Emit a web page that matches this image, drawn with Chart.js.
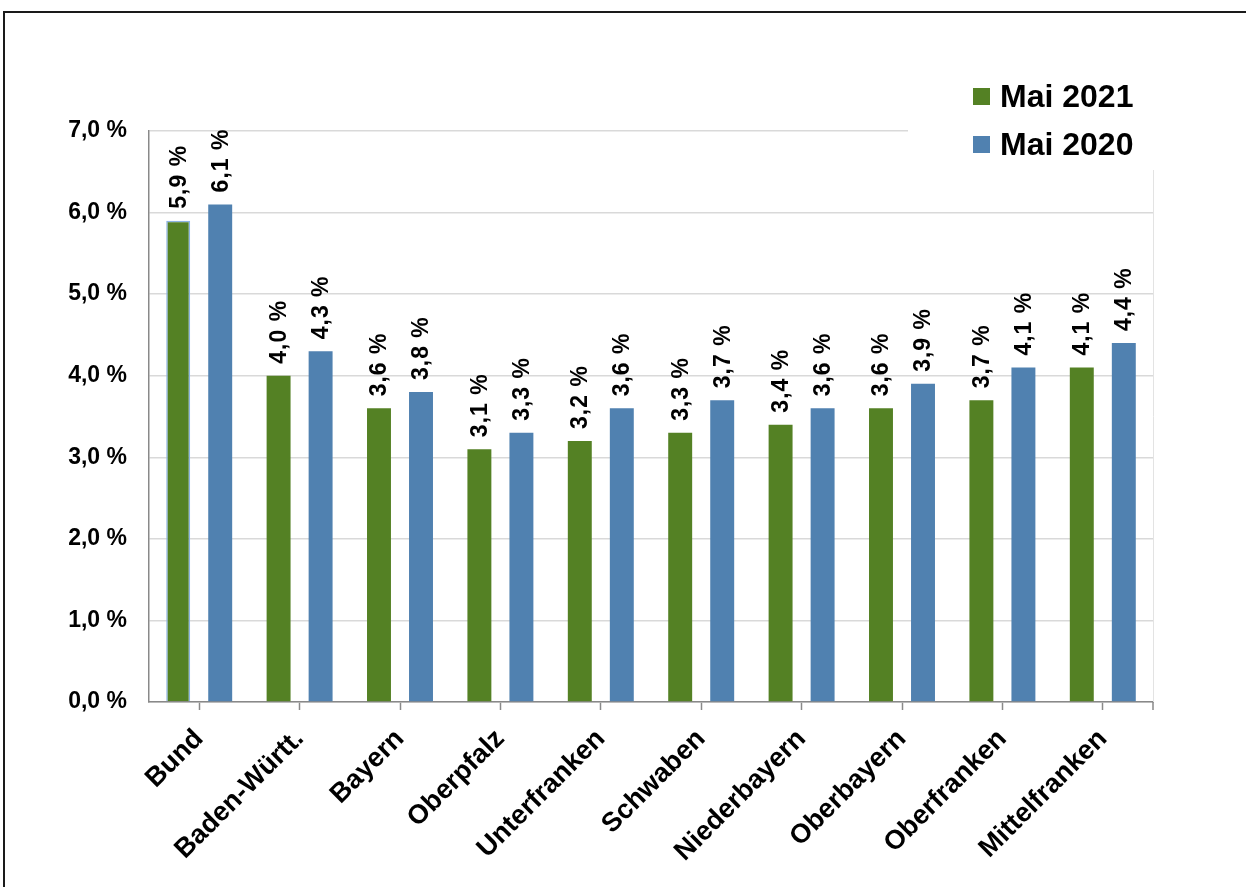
<!DOCTYPE html>
<html>
<head>
<meta charset="utf-8">
<script src="https://cdn.jsdelivr.net/npm/chart.js@4/dist/chart.umd.min.js"></script>
<style>
	html, body { margin: 0; padding: 0; background: #fff; overflow: hidden; }
	#wrap { position: relative; width: 1246px; height: 887px; }
	#frame { position: absolute; left: 3px; top: 11px; width: 1300px; height: 950px;
		border-left: 2px solid #1a1a1a; border-top: 2px solid #1a1a1a; }
	canvas { position: absolute; left: 0; top: 0; }
</style>
</head>
<body>
<div id="wrap">
	<div id="frame"></div>
	<canvas id="chart" width="1246" height="887"></canvas>
</div>
<script>

const regions = ['Bund', 'Baden-Württ.', 'Bayern', 'Oberpfalz', 'Unterfranken', 'Schwaben', 'Niederbayern', 'Oberbayern', 'Oberfranken', 'Mittelfranken'];
const mai2021 = [5.9, 4.0, 3.6, 3.1, 3.2, 3.3, 3.4, 3.6, 3.7, 4.1];
const mai2020 = [6.1, 4.3, 3.8, 3.3, 3.6, 3.7, 3.6, 3.9, 4.1, 4.4];
const seriesNames = ['Mai 2021', 'Mai 2020'];

const GREEN = '#548124';
const BLUE = '#5081b0';
const FONT = '"Liberation Sans", Arial, sans-serif';

const fmt = ( v ) => v.toFixed( 1 ).replace( '.', ',' ) + ' %';

// value labels, rotated upwards above each bar
const valueLabels = {
	id: 'valueLabels',
	afterDatasetsDraw( chart ) {
		const ctx = chart.ctx;
		ctx.save();
		ctx.font = 'bold 23px ' + FONT;
		ctx.letterSpacing = '1px';
		ctx.fillStyle = '#000';
		ctx.textAlign = 'left';
		ctx.textBaseline = 'middle';
		chart.data.datasets.forEach( ( ds, i ) => {
			chart.getDatasetMeta( i ).data.forEach( ( bar, j ) => {
				ctx.save();
				ctx.translate( bar.x + 1, bar.y - 12 );
				ctx.rotate( -Math.PI / 2 );
				ctx.fillText( fmt( ds.data[j] ), 0, 0 );
				ctx.restore();
			} );
		} );
		ctx.restore();
	}
};

// right plot edge, end tick and the legend box
const extras = {
	id: 'extras',
	afterDraw( chart ) {
		const ctx = chart.ctx;
		const a = chart.chartArea;
		ctx.save();
		ctx.strokeStyle = '#e3e3e3';
		ctx.lineWidth = 1;
		ctx.beginPath();
		ctx.moveTo( a.right + 0.5, a.top );
		ctx.lineTo( a.right + 0.5, a.bottom );
		ctx.stroke();
		ctx.strokeStyle = '#898989';
		ctx.lineWidth = 1.5;
		ctx.beginPath();
		ctx.moveTo( a.right, a.bottom );
		ctx.lineTo( a.right, a.bottom + 8 );
		ctx.stroke();

		// legend
		const lx = a.right - 245;
		ctx.fillStyle = '#fff';
		ctx.fillRect( lx, 60, 260, 110 );
		const colors = [ GREEN, BLUE ];
		const ys = [ 97, 145 ];
		ctx.font = 'bold 32px ' + FONT;
		ctx.textAlign = 'left';
		ctx.textBaseline = 'middle';
		seriesNames.forEach( ( name, i ) => {
			ctx.fillStyle = colors[i];
			ctx.fillRect( a.right - 180, ys[i] - 9, 17, 17 );
			ctx.fillStyle = '#000';
			ctx.fillText( name, a.right - 153, ys[i] + 1 );
		} );
		ctx.restore();
	}
};

const chart = new Chart( document.getElementById('chart'), {
	type: 'bar',
	data: {
		labels: regions,
		datasets: [{
			label: seriesNames[0],
			data: mai2021,
			backgroundColor: GREEN,
			borderColor: regions.map( ( r, i ) => i === 0 ? '#8db4e2' : GREEN ),
			borderWidth: regions.map( ( r, i ) => i === 0 ? 1.5 : 0 ),
			categoryPercentage: 0.837,
			barPercentage: 0.57
		},{
			label: seriesNames[1],
			data: mai2020,
			backgroundColor: BLUE,
			borderWidth: 0,
			categoryPercentage: 0.837,
			barPercentage: 0.57
		}]
	},
	options: {
		responsive: false,
		animation: false,
		layout: {
			padding: { top: 131, right: 93, left: 0, bottom: 0 }
		},
		plugins: {
			legend: { display: false },
			tooltip: { enabled: false }
		},
		scales: {
			x: {
				grid: {
					drawOnChartArea: false,
					offset: false,
					tickLength: 8,
					tickWidth: 1.5,
					tickColor: '#898989'
				},
				border: { color: '#898989', width: 1.5 },
				ticks: {
					minRotation: 45,
					maxRotation: 45,
					autoSkip: false,
					padding: 13,
					color: '#000',
					font: { family: FONT, size: 27, weight: 'bold' }
				},
				afterFit: ( s ) => { s.height = 185; }
			},
			y: {
				min: 0,
				max: 7,
				grid: {
					color: '#d9d9d9',
					lineWidth: 1.5,
					drawTicks: false
				},
				border: { color: '#898989', width: 1.5 },
				ticks: {
					stepSize: 1,
					padding: 22,
					color: '#000',
					font: { family: FONT, size: 23, weight: 'bold' },
					callback: ( v ) => fmt( v )
				},
				afterFit: ( s ) => { s.width = 149; }
			}
		}
	},
	plugins: [ valueLabels, extras ]
});

</script>
</body>
</html>
